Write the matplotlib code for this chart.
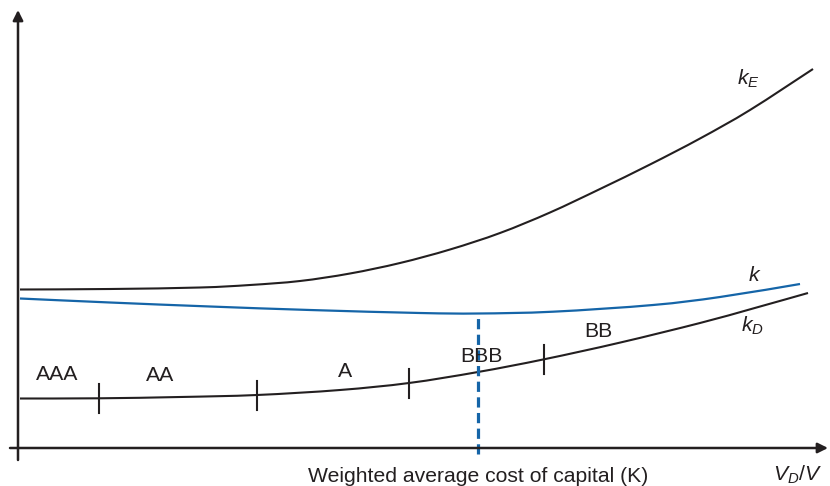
import matplotlib.pyplot as plt
import numpy as np
from matplotlib.path import Path
from matplotlib.patches import PathPatch

plt.rcParams['font.family'] = ['Liberation Sans', 'DejaVu Sans']
plt.rcParams['mathtext.fontset'] = 'custom'
plt.rcParams['mathtext.it'] = 'Liberation Sans:italic'
plt.rcParams['mathtext.rm'] = 'Liberation Sans'

# data coordinates: x = leverage (V_D/V), y = cost of capital, origin at the axes corner
kE_x = [2, 92, 182, 232, 282, 332, 382, 432, 482, 532, 582, 632, 682, 732, 795]
kE_y = [158.5, 159, 160.5, 163, 167, 174.5, 185, 198.5, 215, 235.5, 259, 283.5, 309.5, 338, 379]

k_x = [2, 92, 192, 292, 402, 460, 535, 635, 702, 782]
k_y = [149.5, 145.5, 141.5, 138, 135, 134.5, 136.3, 143, 151, 164]

kD_x = [2, 81, 162, 239, 322, 391, 460, 526, 602, 682, 735, 790]
kD_y = [49.5, 49.7, 51, 53, 58, 65, 76, 88.7, 105.4, 125, 139.5, 155]

rating_x = [81, 239, 391, 526]          # boundaries between rating classes
rating_labels = ['AAA', 'AA', 'A', 'BBB', 'BB']
label_x = [39, 142.5, 327, 463, 580.5]
label_y = [68, 67.3, 71.3, 85.7, 111.3]
optimum_x = 460

ink = '#231f20'
blue = '#1565a8'


def smooth(xs, ys):
    # draw the read points as a Catmull-Rom style bezier path
    p = np.column_stack([xs, ys]).astype(float)
    ext = np.vstack([p[0], p, p[-1]])
    verts = [p[0]]
    codes = [Path.MOVETO]
    for i in range(1, len(ext) - 2):
        c1 = ext[i] + (ext[i + 1] - ext[i - 1]) / 6
        c2 = ext[i + 1] - (ext[i + 2] - ext[i]) / 6
        verts += [c1, c2, ext[i + 1]]
        codes += [Path.CURVE4] * 3
    return Path(verts, codes)


fig = plt.figure(figsize=(8.3, 4.86), dpi=100)
ax = fig.add_axes([0, 0, 1, 1])
ax.set_xlim(-18, 812)
ax.set_ylim(-38, 448)
ax.axis('off')

# axes with arrows
ax.annotate('', xy=(0, 438), xytext=(0, -12),
            arrowprops=dict(arrowstyle='-|>', lw=1.8, color=ink, mutation_scale=15, shrinkA=0, shrinkB=0))
ax.annotate('', xy=(810, 0), xytext=(-8, 0),
            arrowprops=dict(arrowstyle='-|>', lw=1.8, color=ink, mutation_scale=15, shrinkA=0, shrinkB=0))

ax.add_patch(PathPatch(smooth(kE_x, kE_y), fill=False, edgecolor=ink, lw=1.5))
ax.add_patch(PathPatch(smooth(k_x, k_y), fill=False, edgecolor=blue, lw=1.6))
ax.add_patch(PathPatch(smooth(kD_x, kD_y), fill=False, edgecolor=ink, lw=1.5))

# rating class boundaries on k_D
for bx in rating_x:
    by = kD_y[kD_x.index(bx)]
    ax.plot([bx, bx], [by - 14.5, by + 14.5], color=ink, lw=1.5)

for lab, lx, ly in zip(rating_labels, label_x, label_y):
    ax.text(lx, ly, lab, fontsize=15.3, color=ink, ha='center', va='baseline')

# optimum leverage
ax.plot([optimum_x, optimum_x], [-6, k_y[k_x.index(optimum_x)] - 1], color=blue, lw=2.3,
        linestyle=(0, (3.2, 1.7)))

ax.text(730, 363, '$k_E$', fontsize=15.3, color=ink, ha='center', va='baseline')
ax.text(737, 167.3, '$k$', fontsize=15.3, color=ink, ha='center', va='baseline')
ax.text(734, 116.3, '$k_D$', fontsize=15.3, color=ink, ha='center', va='baseline')

ax.text(460, -33.5, 'Weighted average cost of capital (K)', fontsize=15.2, color=ink,
        ha='center', va='baseline')
ax.text(780, -33, '$V_D/V$', fontsize=15.3, color=ink, ha='center', va='baseline')

fig.savefig('out.png', dpi=100)
